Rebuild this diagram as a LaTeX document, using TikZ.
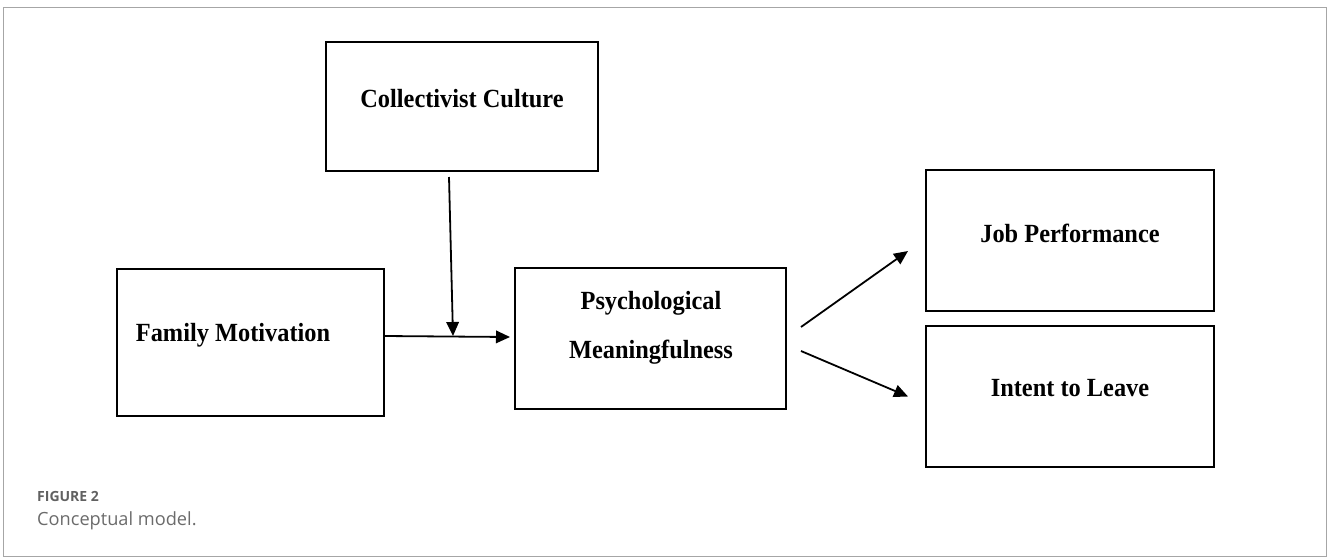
\documentclass[tikz,border=0pt]{standalone}
\usepackage{fontspec}
\setmainfont{Liberation Serif}[FakeStretch=0.93]
\newfontfamily\capfont{Open Sans}
\usetikzlibrary{arrows.meta}

\begin{document}
\begin{tikzpicture}[x=1pt,y=-1pt,
    box/.style={draw,line width=2pt,inner sep=0pt},
    txt/.style={font=\fontsize{26.2}{49}\selectfont\bfseries,align=center},
    arr/.style={-{Triangle[length=14pt,width=12.5pt]},line width=1.8pt}]
    % Frame
    \useasboundingbox (0,0) rectangle (1332,558);
    \draw[black!35,line width=1pt] (3.5,7.5) rectangle (1326.5,556.5);

    % Boxes
    \node[box,minimum width=272pt,minimum height=129pt] (cult) at (462,106.5) {};
    \node[box,minimum width=267pt,minimum height=147pt] (fam) at (250.5,342.5) {};
    \node[box,minimum width=271pt,minimum height=141pt] (psy) at (650.5,338) {};
    \node[box,minimum width=288pt,minimum height=141pt] (perf) at (1070,240.5) {};
    \node[box,minimum width=288pt,minimum height=141pt] (leave) at (1070,396.5) {};

    % Labels
    \node[txt] (cult-t) at ([yshift=7.5pt]cult.center) {Collectivist Culture};
    \node[txt] (fam-t) at (233,335) {Family Motivation};
    \node[txt] (psy-t) at (651,327.5) {Psychological\\Meaningfulness};
    \node[txt] (perf-t) at ([yshift=7.5pt]perf.center) {Job Performance};
    \node[txt] (leave-t) at ([yshift=8.5pt]leave.center) {Intent to Leave};

    % Paths
    \coordinate (join) at (453,336);
    \draw[arr] ([yshift=6.5pt]fam.east) -- ([shift={(-4,-1)}]psy.west);
    \draw[arr] ([shift={(-13,5)}]cult.south) -- (join);
    \draw[arr] ([shift={(14,-11)}]psy.east) -- ([shift={(-17,10.5)}]perf.west);
    \draw[arr] ([shift={(14,13)}]psy.east) -- ([shift={(-17,0)}]leave.west);

    % Caption
    \node[anchor=base west,inner sep=0pt,black!62,font=\capfont\fontsize{14}{16}\selectfont\bfseries] (fig) at (37,501) {FIGURE 2};
    \node[anchor=base west,inner sep=0pt,black!58,font=\capfont\fontsize{18.2}{20}\selectfont] (cap) at (37,525) {Conceptual model.};
\end{tikzpicture}
\end{document}
